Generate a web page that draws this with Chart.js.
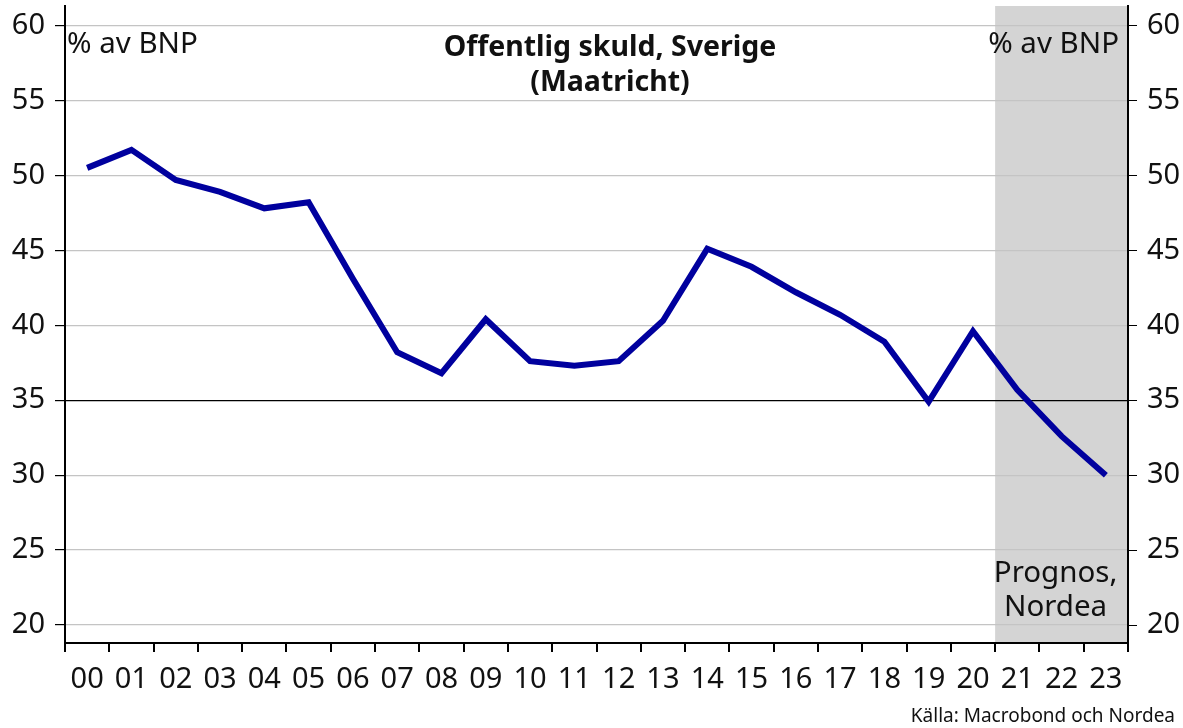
<!DOCTYPE html>
<html>
<head>
<meta charset="utf-8">
<script src="https://cdn.jsdelivr.net/npm/chart.js@4/dist/chart.umd.min.js"></script>
<style>
html,body{margin:0;padding:0;background:#fff;}
#wrap{width:1183px;height:728px;position:relative;}
</style>
</head>
<body>
<div id="wrap"><canvas id="c" width="1183" height="728"></canvas></div>
<script>
const categories = ['00','01','02','03','04','05','06','07','08','09','10','11','12','13','14','15','16','17','18','19','20','21','22','23'];
const debtValues = [50.5,51.7,49.7,48.9,47.8,48.2,43.1,38.2,36.8,40.4,37.6,37.3,37.6,40.3,45.1,43.9,42.2,40.7,38.9,34.9,39.6,35.7,32.6,30.0];
const yTickValues = [20,25,30,35,40,45,50,55,60];
const forecastStartIndex = 21;
const titleLines = ['Offentlig skuld, Sverige','(Maatricht)'];
const unitLabel = '% av BNP';
const forecastLabel = ['Prognos,','Nordea'];
const sourceLabel = 'Källa: Macrobond och Nordea';

const FONT = '"Noto Sans", "Open Sans", sans-serif';
const Y_MIN = 18.8, Y_MAX = 61.3;

const decor = {
  id: 'decor',
  beforeDraw(chart) {
    const {ctx, chartArea, scales} = chart;
    const x0 = scales.x.getPixelForValue(forecastStartIndex - 0.5);
    ctx.save();
    ctx.fillStyle = '#d4d4d4';
    ctx.fillRect(x0, chartArea.top, chartArea.right - x0, chartArea.bottom - chartArea.top);
    ctx.restore();
  },
  afterDatasetsDraw(chart) {
    const {ctx, chartArea, scales} = chart;
    ctx.save();
    ctx.fillStyle = '#111';
    ctx.textBaseline = 'middle';
    ctx.font = 'bold 28.5px ' + FONT;
    ctx.textAlign = 'center';
    const cx = 610;
    ctx.fillText(titleLines[0], cx, 48);
    ctx.fillText(titleLines[1], cx, 83);
    ctx.font = '29.5px ' + FONT;
    ctx.textAlign = 'left';
    ctx.fillText(unitLabel, chartArea.left + 2, 45);
    ctx.textAlign = 'right';
    ctx.fillText(unitLabel, chartArea.right - 9, 45);
    const x0 = scales.x.getPixelForValue(forecastStartIndex - 0.5);
    const fx = (x0 + chartArea.right) / 2 - 6;
    ctx.textAlign = 'center';
    ctx.fillText(forecastLabel[0], fx, 574);
    ctx.fillText(forecastLabel[1], fx, 608);
    ctx.font = '19px ' + FONT;
    ctx.textAlign = 'right';
    ctx.fillText(sourceLabel, 1175, 717);
    ctx.restore();
  }
};

const tickFont = {family: FONT, size: 29};

function noPad(s) { s.paddingTop = 0; s.paddingBottom = 0; s.paddingLeft = 0; s.paddingRight = 0; }

new Chart(document.getElementById('c'), {
  type: 'line',
  data: {
    labels: categories,
    datasets: [{
      data: debtValues,
      borderColor: '#00009e',
      borderWidth: 6,
      pointRadius: 0,
      tension: 0,
      borderJoinStyle: 'miter',
      fill: false,
      yAxisID: 'y'
    }]
  },
  options: {
    responsive: false,
    animation: false,
    layout: {padding: {top: 6, bottom: 35, left: 0, right: 0}},
    plugins: {legend: {display: false}, title: {display: false}, tooltip: {enabled: false}},
    scales: {
      x: {
        offset: true,
        grid: {offset: true, drawOnChartArea: false, tickLength: 9, tickColor: '#000', lineWidth: 2},
        border: {color: '#000', width: 2},
        ticks: {font: tickFont, color: '#111', padding: 10, maxRotation: 0, autoSkip: false},
        afterFit(s) { s.height = 50; noPad(s); }
      },
      y: {
        position: 'left',
        min: Y_MIN, max: Y_MAX,
        afterBuildTicks(s) { s.ticks = yTickValues.map(v => ({value: v})); },
        grid: {
          color: c => (c.tick && c.tick.value === 35) ? '#000' : '#c4c4c4',
          lineWidth: 1.2,
          tickLength: 10, tickColor: '#000'
        },
        border: {color: '#000', width: 2},
        ticks: {font: tickFont, color: '#111', padding: 10},
        afterFit(s) { s.width = 65; noPad(s); }
      },
      y2: {
        position: 'right',
        min: Y_MIN, max: Y_MAX,
        afterBuildTicks(s) { s.ticks = yTickValues.map(v => ({value: v})); },
        grid: {drawOnChartArea: false, tickLength: 9, tickColor: '#000'},
        border: {color: '#000', width: 2},
        ticks: {font: tickFont, color: '#111', padding: 10},
        afterFit(s) { s.width = 55; noPad(s); }
      }
    }
  },
  plugins: [decor]
});
</script>
</body>
</html>
